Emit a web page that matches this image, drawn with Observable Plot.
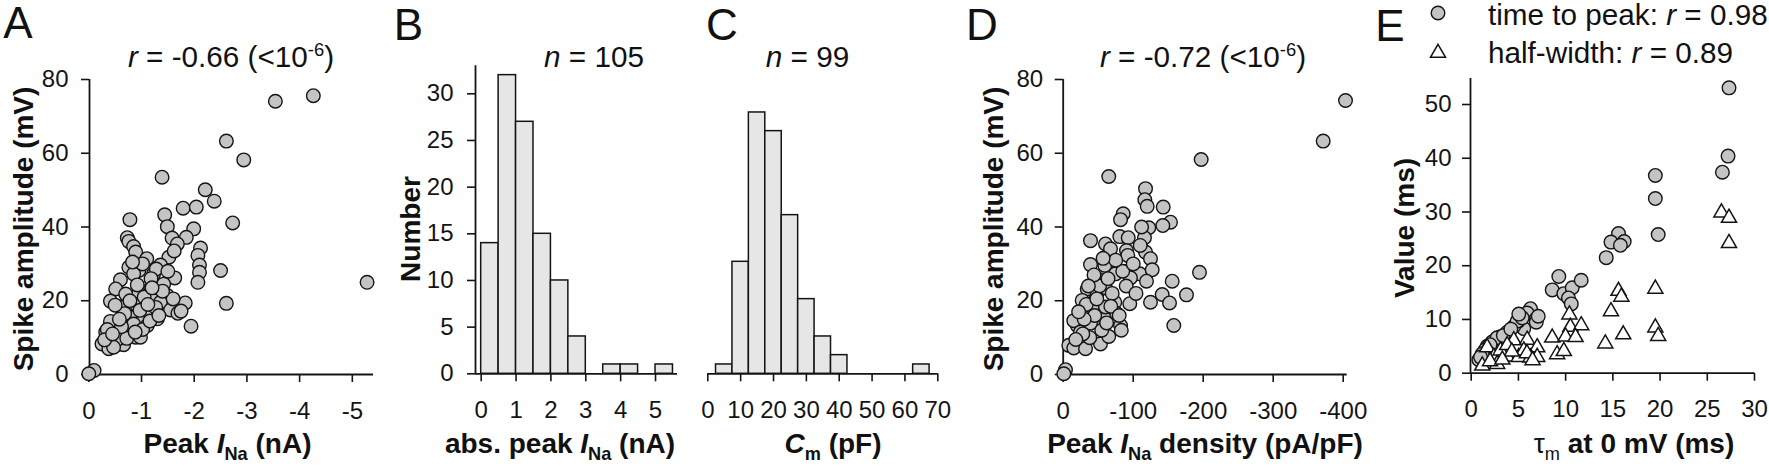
<!DOCTYPE html>
<html><head><meta charset="utf-8">
<script src="https://cdn.jsdelivr.net/npm/d3@7"></script>
<script src="https://cdn.jsdelivr.net/npm/@observablehq/plot@0.6"></script>
<style>
html,body{margin:0;padding:0;background:#fff;}
#fig{position:relative;width:1769px;height:468px;background:#fff;font-family:"Liberation Sans",Arial,Helvetica,sans-serif;color:#111;overflow:hidden;}
.t{position:absolute;white-space:nowrap;line-height:1;transform:translate(-50%,-50%);}
.t sub{font-size:0.65em;vertical-align:-0.38em;line-height:0;}
.t sup{font-size:0.62em;vertical-align:0.62em;line-height:0;}
.t.rot{transform:translate(-50%,-50%) rotate(-90deg);}
.t.left{transform:translate(0,-50%);}
</style></head><body><div id="fig"></div>
<script>
// ---------- Panel A: spike amplitude vs peak INa ----------
const aPeak = [-1.39,-2.21,-2.38,-1.79,-2.04,-2.73,-0.78,-1.44,-1.49,-1.99,-0.73,-0.76,-1.58,-1.85,-1.68,-0.85,-0.89,-2.12,-2.07,-2.10,-2.10,-2.07,-1.52,-1.10,-1.36,-0.76,-0.95,-0.85,-1.23,-1.63,-2.50,-0.60,-0.51,-1.17,-0.95,-1.49,-0.41,-1.22,-1.36,-1.83,-2.61,-0.90,-0.60,-1.55,-1.69,-1.08,-1.30,-0.79,-1.01,-0.85,-1.94,-0.41,-1.11,-0.32,-0.66,-0.89,-0.98,-0.25,-0.41,-0.38,-0.51,-0.66,-0.10,0,-3.54,-4.26,-2.61,-2.94,-5.28,
  -0.55,-0.47,-0.72,-1.02,-1.16,-1.27,-1.05,-1.42,-1.28,-1.02,-1.18,-0.92,-0.70,-0.35,-0.30,-0.62,-1.60,-1.75,-0.97,-1.12,-1.40,-1.50,-1.62,-0.83,-0.68,-0.50,-0.45,-0.88,-1.33,-0.58,-1.20,-0.78];
const aAmp = [53.5,50.1,47,45.1,45.4,41.1,42,43.3,40.1,39.5,37.1,36.1,37,37.2,35.4,34.7,33.2,34.3,32.3,29.7,27.7,25,31.8,31.4,29.7,29.1,28.2,27.3,27.3,26.2,28.2,25.7,23.2,23.2,22,21.4,19.9,20.1,19.6,19.4,19.3,19,18.3,17.5,16.6,16.6,15.1,15.5,14.2,13.7,13.1,14.4,13.3,11.5,10.6,10.1,10.1,8.3,9.2,7,7.9,8.1,1.1,0.2,74.1,75.6,63.3,58.2,25,
  9.6,7.4,9.8,12.2,14.5,18.2,21,24.5,28.6,30,26,24.3,21.8,12.2,9.4,13,20.5,17.2,17.4,19,22.6,28,33.5,30.5,16.5,18.8,11,11.5,16,15,23.5,20];
const aXTicks = [0,-1,-2,-3,-4,-5];
const aYTicks = [0,20,40,60,80];

// ---------- Panel B: histogram of |peak INa| ----------
const bBinLow = [0,0.5,1,1.5,2,2.5,3,3.5,4,4.5,5];
const bCounts = [14,32,27,15,10,4,0,1,1,0,1];
const bBinWidth = 0.5;
const bXTicks = [0,1,2,3,4,5];
const bYTicks = [0,5,10,15,20,25,30];

// ---------- Panel C: histogram of Cm ----------
const cBinCenter = [5,10,15,20,25,30,35,40,45,50,55,60,65];
const cCounts = [1,12,28,26,17,8,4,2,0,0,0,0,1];
const cBinWidth = 5;
const cXTicks = [0,10,20,30,40,50,60,70];

// ---------- Panel D: spike amplitude vs peak INa density ----------
const dDens = [-65.1,-117.6,-116.6,-120,-142.9,-153.3,-142.3,-122.3,-85.7,-81.9,-39,-60.4,-80.9,-92.9,-116.1,-67.6,-90.4,-92.3,-117.6,-124.7,-39,-59.4,-91.4,-74.7,-109.4,-127.1,-96.1,-119,-194.7,-155.7,-48.6,-34.3,-48.6,-60.4,-27.1,-46.1,-73.7,-95.1,-124.7,-141.4,-151.9,-176.1,-158,-76.1,-58,-39,-81.9,-20,-24.7,-53.3,-65.1,-8,-15.1,-31.9,-15.1,-3.3,-0.9,-48.6,-41.4,-60.4,-24.7,-403.3,-371.4,-197.1,
  -45,-55,-70,-85,-52,-30,-38,-68,-75,-100,-110,-57,-44,-33,-62,-28,-80,-90,-104,-48,-22,-64,-83,-18,-36,-112];
const dAmp = [53.7,50.4,47.4,45.6,45.4,41.3,40.4,39.8,43.6,42,36.3,35.4,37.4,37.1,37.1,34.1,33.6,32.3,33.2,31.4,29.8,29.6,28,27.3,27.3,28.4,26.2,25.3,27.7,25.3,26,23.2,22,23.5,20.1,20.1,19.6,19.2,19.6,21.7,19.4,21.6,13.3,16.6,15.5,13.9,13.3,13.3,9.2,8.3,10.3,7.9,7.2,7,14.6,1.3,0.2,24.6,18.3,18.3,11.5,74.3,63.3,58.3,
  16,12,22,28,24,15,10,18.5,31,30,35,31.5,27,19,14,11,16,24,22,20.5,17,26,12,9.5,24,40];
const dXTicks = [0,-100,-200,-300,-400];
const dYTicks = [0,20,40,60,80];

// ---------- Panel E: time to peak / half-width vs tau_m ----------
const eTauPeak = [27.3,27.2,26.6,19.5,19.5,19.8,15.6,14.8,16.2,15.8,14.3,9.28,8.58,9.81,10.7,11.65,10.3,10.6,6.28,5.93,6.89,6.89,5.57,4.98,4.51,3.81,3.1,2.68,2.22,1.69,1.51,1.17,0.81,0.99,4.87,2.75,5.4,3.4,4.2,2.0,5.04,7.1];
const eTimeToPeak = [53.1,40.4,37.4,36.8,32.5,25.8,26,24.4,24.5,23.8,21.5,18,15.5,14.8,15.9,17.3,14,12.9,12,11.2,10.1,9.5,8.3,9.7,8.7,7.6,6.8,6.4,5.8,5,4.4,3.6,2.5,3,9.7,6.6,10.3,7,8.2,5.3,11,10.6];
const eTauHalf = [26.5,27.3,27.3,19.5,19.5,19.8,15.6,15.9,14.8,16.1,14.2,10.4,10.5,11.65,8.58,9.99,11.05,9.1,9.81,1.69,1.17,2.4,3.8,4.51,5.93,6.99,5.04,6.28,3.1,3.81,6.99,2.75,5.57,2.0,4.3,3.3,5.9,6.5];
const eHalfWidth = [29.9,28.9,24.2,15.7,8.5,6.9,15.3,14.2,11.5,7.2,5.5,10.9,8.6,8.9,6.6,6.8,6.7,3.5,4.1,4.8,1.4,3,3.1,6.1,6.2,4.8,3,2.9,4.2,5.2,3,1.7,4.2,2.2,4,2.5,3.7,2.4];
const eXTicks = [0,5,10,15,20,25,30];
const eYTicks = [0,10,20,30,40,50];

// ---------- rendering ----------
const fig = document.getElementById("fig");
const INK = "#141414";
const DOT_FILL = "#c4c4c4";
const BAR_FILL = "#e6e6e6";
const baseStyle = {background:"transparent", overflow:"visible", fontFamily:"Liberation Sans, Arial, sans-serif", fontSize:"24px", color:INK};

function place(svg, left) {
  svg.style.position = "absolute";
  svg.style.left = left + "px";
  svg.style.top = "0px";
  fig.appendChild(svg);
}
function txt(html, x, y, size, opts = {}) {
  const d = document.createElement("div");
  d.className = "t" + (opts.rot ? " rot" : "") + (opts.left ? " left" : "");
  d.innerHTML = html;
  d.style.left = x + "px";
  d.style.top = y + "px";
  d.style.fontSize = size + "px";
  if (opts.bold) d.style.fontWeight = "bold";
  fig.appendChild(d);
}
const fmt = d => String(d);
function axX(ticks, pad = 19) { return Plot.axisX({ticks, tickSize: 8, tickPadding: pad, fontSize: 24, tickFormat: fmt, label: null, strokeWidth: 1.6}); }
function axY(ticks, pad) { return Plot.axisY({ticks, tickSize: 8, tickPadding: pad, fontSize: 24, tickFormat: fmt, label: null, strokeWidth: 1.6}); }

// Panel A
const aData = aPeak.map((x, i) => ({x, y: aAmp[i]}));
const aXDomain = [-0.013, -5.402];
place(Plot.plot({
  width: 380, height: 468, marginLeft: 89, marginRight: 7, marginTop: 79, marginBottom: 94,
  x: {domain: aXDomain}, y: {domain: [0, 80]}, style: baseStyle,
  marks: [
    Plot.ruleX([aXDomain[0]], {stroke: INK, strokeWidth: 1.8}),
    Plot.ruleY([0], {stroke: INK, strokeWidth: 1.8}),
    axX(aXTicks), axY(aYTicks, 13),
    Plot.dot(aData, {x: "x", y: "y", r: 6.8, fill: DOT_FILL, stroke: INK, strokeWidth: 1.4})
  ]
}), 0);

// Panel B
const bData = bBinLow.map((x, i) => ({x1: x, x2: x + bBinWidth, y1: 0, y2: bCounts[i]})).filter(d => d.y2 > 0);
const bXDomain = [-0.163, 5.63];
place(Plot.plot({
  width: 320, height: 468, marginLeft: 95, marginRight: 23, marginTop: 65.3, marginBottom: 94.7,
  x: {domain: bXDomain}, y: {domain: [0, 33]}, style: baseStyle,
  marks: [
    Plot.rect(bData, {x1: "x1", x2: "x2", y1: "y1", y2: "y2", fill: BAR_FILL, stroke: INK, strokeWidth: 1.5, inset: 0}),
    Plot.ruleX([bXDomain[0]], {stroke: INK, strokeWidth: 1.8}),
    Plot.ruleY([0], {stroke: INK, strokeWidth: 1.8}),
    axX(bXTicks), axY(bYTicks, 14)
  ]
}), 380);

// Panel C
const cData = cBinCenter.map((c, i) => ({x1: c - cBinWidth / 2, x2: c + cBinWidth / 2, y1: 0, y2: cCounts[i]})).filter(d => d.y2 > 0);
place(Plot.plot({
  width: 250, height: 468, marginLeft: 7.3, marginRight: 12.7, marginTop: 65.3, marginBottom: 94.7,
  x: {domain: [0, 70]}, y: {domain: [0, 33], axis: null}, style: baseStyle,
  marks: [
    Plot.rect(cData, {x1: "x1", x2: "x2", y1: "y1", y2: "y2", fill: BAR_FILL, stroke: INK, strokeWidth: 1.5, inset: 0}),
    Plot.ruleY([0], {stroke: INK, strokeWidth: 1.8}),
    axX(cXTicks)
  ]
}), 700);

// Panel D
const dData = dDens.map((x, i) => ({x, y: dAmp[i]}));
const dXDomain = [0, -405.7];
place(Plot.plot({
  width: 440, height: 468, marginLeft: 112.7, marginRight: 43.3, marginTop: 79, marginBottom: 94,
  x: {domain: dXDomain}, y: {domain: [0, 80]}, style: baseStyle,
  marks: [
    Plot.ruleX([dXDomain[0]], {stroke: INK, strokeWidth: 1.8}),
    Plot.ruleY([0], {stroke: INK, strokeWidth: 1.8}),
    axX(dXTicks), axY(dYTicks, 12),
    Plot.dot(dData, {x: "x", y: "y", r: 6.8, fill: DOT_FILL, stroke: INK, strokeWidth: 1.4})
  ]
}), 950);

// Panel E
const ePeakData = eTauPeak.map((x, i) => ({x, y: eTimeToPeak[i]}));
const eHalfData = eTauHalf.map((x, i) => ({x, y: eHalfWidth[i]}));
const eXDomain = [-0.074, 30];
place(Plot.plot({
  width: 379, height: 468, marginLeft: 80, marginRight: 15, marginTop: 78, marginBottom: 95.3,
  x: {domain: eXDomain}, y: {domain: [0, 54.84]}, style: baseStyle,
  marks: [
    Plot.ruleX([eXDomain[0]], {stroke: INK, strokeWidth: 1.8}),
    Plot.ruleY([0], {stroke: INK, strokeWidth: 1.8}),
    axX(eXTicks), axY(eYTicks, 11),
    Plot.dot(ePeakData, {x: "x", y: "y", r: 6.8, fill: DOT_FILL, stroke: INK, strokeWidth: 1.4}),
    Plot.dot(eHalfData, {x: "x", y: "y", r: 5.6, symbol: "triangle", fill: "white", stroke: INK, strokeWidth: 1.5})
  ]
}), 1390);

// ---------- texts ----------
// panel letters
txt("A", 18, 23, 44); txt("B", 408.5, 24.5, 44); txt("C", 722, 25, 44); txt("D", 982, 25, 44); txt("E", 1390, 26, 44);
// panel titles
txt("<i>r</i> = -0.66 (&lt;10<sup>-6</sup>)", 231, 57, 29.7);
txt("<i>n</i> = 105", 594, 57, 29.7);
txt("<i>n</i> = 99", 807.5, 57, 29.7);
txt("<i>r</i> = -0.72 (&lt;10<sup>-6</sup>)", 1203, 57, 29.7);
// x-axis titles
txt("Peak <i>I</i><sub>Na</sub> (nA)", 227.5, 444, 28, {bold: true});
txt("abs. peak <i>I</i><sub>Na</sub> (nA)", 560, 444, 28, {bold: true});
txt("<i>C</i><sub>m</sub> (pF)", 833, 444, 28, {bold: true});
txt("Peak <i>I</i><sub>Na</sub> density (pA/pF)", 1205, 444, 28, {bold: true});
txt("<span style='font-weight:normal'>τ<sub>m</sub></span> at 0 mV (ms)", 1634, 444, 28, {bold: true});
// y-axis titles
txt("Spike amplitude (mV)", 24, 229, 28, {bold: true, rot: true});
txt("Number", 411, 229, 28, {bold: true, rot: true});
txt("Spike amplitude (mV)", 994, 229, 28, {bold: true, rot: true});
txt("Value (ms)", 1405, 228, 28, {bold: true, rot: true});
// legend (panel E)
const lg = document.createElement("div");
lg.style.cssText = "position:absolute;left:1428px;top:3px;width:22px;height:62px;";
lg.innerHTML = `<svg width="22" height="62"><circle cx="10" cy="10" r="6.8" fill="${DOT_FILL}" stroke="${INK}" stroke-width="1.4"/><path d="${d3.symbol(d3.symbolTriangle, Math.PI*5.6*5.6)()}" transform="translate(10,50)" fill="white" stroke="${INK}" stroke-width="1.5"/></svg>`;
fig.appendChild(lg);
txt("time to peak: <i>r</i> = 0.98", 1488, 15, 29.7, {left: true});
txt("half-width: <i>r</i> = 0.89", 1488, 52.5, 29.7, {left: true});
</script></body></html>
